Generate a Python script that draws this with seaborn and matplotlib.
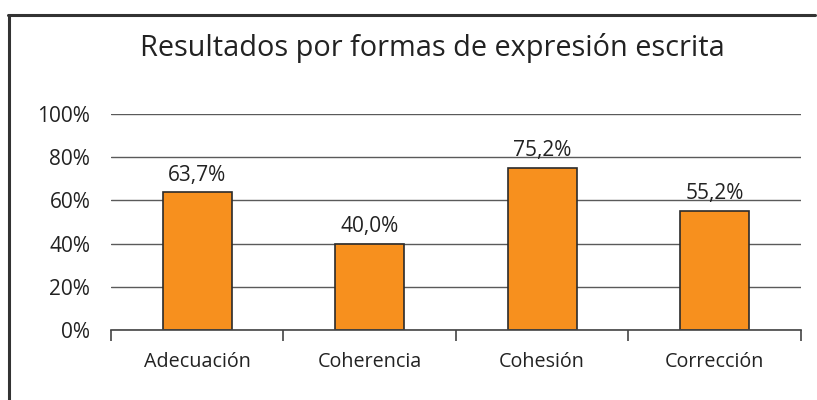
import matplotlib
matplotlib.use('Agg')
import matplotlib.pyplot as plt
import seaborn as sns
import pandas as pd
from matplotlib.lines import Line2D
from matplotlib.ticker import FixedLocator

# Data
categorias = ['Adecuación', 'Coherencia', 'Cohesión', 'Corrección']
valores = [63.7, 40.0, 75.2, 55.2]
etiquetas_y = ['0%', '20%', '40%', '60%', '80%', '100%']

df = pd.DataFrame({'categoria': categorias, 'valor': valores})

sns.set_style('white')
plt.rcParams['font.family'] = ['Open Sans', 'DejaVu Sans']

fig = plt.figure(figsize=(8.17, 4.0), dpi=100)
ax = fig.add_axes([0.136, 0.175, 0.844, 0.54])

sns.barplot(data=df, x='categoria', y='valor', ax=ax, color='#F7901E',
            saturation=1, width=0.4, edgecolor='#2b2b2b', linewidth=1.2, zorder=3)

ax.set_ylim(0, 100)
ax.set_xlim(-0.5, 3.5)
ax.set_yticks([0, 20, 40, 60, 80, 100])
ax.set_yticklabels(etiquetas_y, fontsize=15, color='#222222')
ax.tick_params(axis='y', length=0, pad=15)
ax.tick_params(axis='x', length=0, pad=16, labelsize=14.2, labelcolor='#222222')
ax.xaxis.set_minor_locator(FixedLocator([-0.5, 0.5, 1.5, 2.5, 3.5]))
ax.tick_params(axis='x', which='minor', bottom=True, length=8, width=1.2,
               color='#444444', direction='out')
ax.set_xlabel('')
ax.set_ylabel('')
ax.yaxis.grid(True, color='#5a5a5a', linewidth=1)
ax.set_axisbelow(True)
for s in ['left', 'right', 'top']:
    ax.spines[s].set_visible(False)
ax.spines['bottom'].set_color('#444444')
ax.spines['bottom'].set_linewidth(1.2)
ax.spines['bottom'].set_zorder(4)

for i, v in enumerate(valores):
    ax.text(i, v + 3, f'{v:.1f}%'.replace('.', ','), ha='center', va='bottom',
            fontsize=15, color='#222222')

fig.text(0.529, 0.880, 'Resultados por formas de expresión escrita', ha='center', va='center',
         fontsize=20.8, color='#222222')

# marco
fig.add_artist(Line2D([9/817, 9/817], [0, 1 - 15/400], color='#333333', linewidth=2.2,
                      transform=fig.transFigure))
fig.add_artist(Line2D([8/817, 815/817], [1 - 15/400, 1 - 15/400], color='#333333', linewidth=2.2,
                      transform=fig.transFigure))

fig.savefig('out.png', dpi=100)
